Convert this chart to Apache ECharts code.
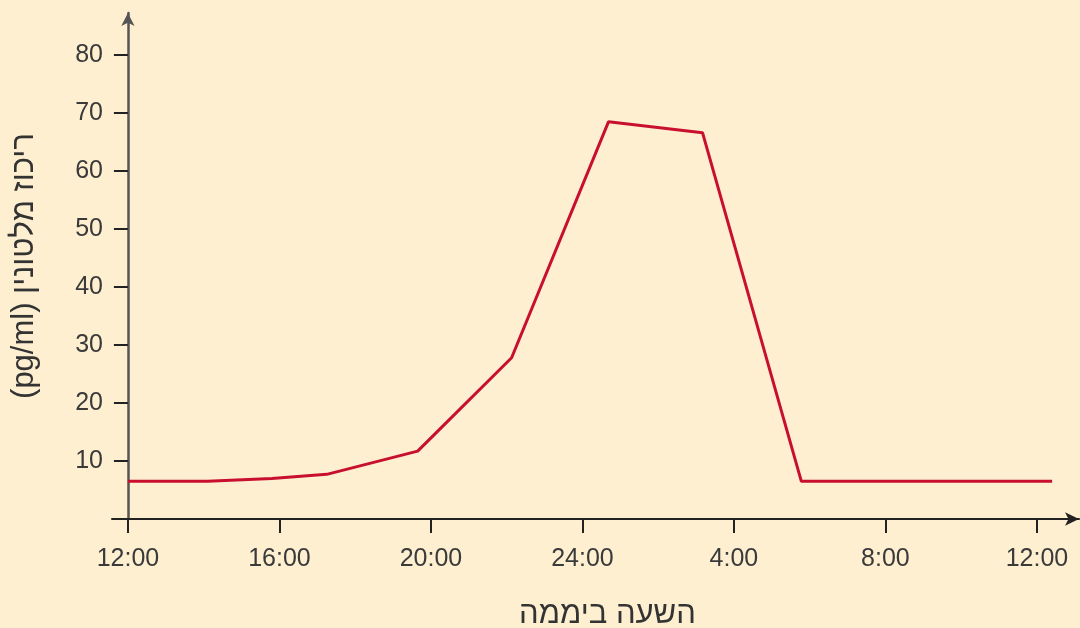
<!DOCTYPE html>
<html>
<head>
<meta charset="utf-8">
<script src="https://cdn.jsdelivr.net/npm/echarts@6/dist/echarts.min.js"></script>
<style>
html,body{margin:0;padding:0;background:#FDEFD0;}
#c{width:1080px;height:628px;}
</style>
</head>
<body>
<div id="c"></div>
<script>
// Hours elapsed since 12:00 (noon) and melatonin concentration (pg/ml)
const hours = [0, 2.1, 3.8, 5.25, 7.65, 10.13, 12.69, 15.17, 17.78, 24.4];
const melatonin = [6.5, 6.5, 7.0, 7.7, 11.7, 27.8, 68.5, 66.6, 6.5, 6.5];
const xTickHours = [0, 4, 8, 12, 16, 20, 24];
const xTickLabels = ['12:00', '16:00', '20:00', '24:00', '4:00', '8:00', '12:00'];
const yTicks = [10, 20, 30, 40, 50, 60, 70, 80];
const xName = 'השעה ביממה';
const yName = '(pg/ml) ריכוז מלטונין';

const FONT = "'Liberation Sans', 'DejaVu Sans', Arial, sans-serif";
const chart = echarts.init(document.getElementById('c'), null, {renderer: 'canvas'});
chart.setOption({
  backgroundColor: '#FDEFD0',
  animation: false,
  grid: {left: 112, right: 1, top: 13, bottom: 109, containLabel: false, outerBoundsMode: 'none'},
  xAxis: {
    type: 'value',
    min: -0.42,
    max: 25.11,
    name: xName,
    nameLocation: 'middle',
    nameGap: 80,
    nameTextStyle: {fontFamily: FONT, fontSize: 31, color: '#333', padding: [0, 0, 0, 24]},
    axisLine: {show: true, onZero: true, symbol: ['none', 'arrow'], symbolSize: [10, 14],
      lineStyle: {color: '#222', width: 2}},
    axisTick: {show: true, customValues: xTickHours, length: 14, inside: false,
      lineStyle: {color: '#222', width: 2}},
    axisLabel: {show: true, customValues: xTickHours, margin: 28,
      fontFamily: FONT, fontSize: 25, color: '#3a3a3a',
      formatter: function (v) { const i = xTickHours.indexOf(Math.round(v)); return i >= 0 ? xTickLabels[i] : ''; }},
    splitLine: {show: false}
  },
  yAxis: {
    type: 'value',
    min: 0,
    max: 87.24,
    name: yName,
    nameLocation: 'middle',
    nameRotate: 90,
    nameGap: 72,
    nameTextStyle: {fontFamily: FONT, fontSize: 31, color: '#333'},
    axisLine: {show: true, onZero: true, symbol: ['none', 'arrow'], symbolSize: [10, 13],
      lineStyle: {color: '#555', width: 2.5}},
    axisTick: {show: true, customValues: yTicks, length: 14, inside: false,
      lineStyle: {color: '#222', width: 2}},
    axisLabel: {show: true, customValues: yTicks, margin: 9,
      fontFamily: FONT, fontSize: 25, color: '#3a3a3a'},
    splitLine: {show: false}
  },
  series: [{
    type: 'line',
    data: hours.map((h, i) => [h, melatonin[i]]),
    symbol: 'none',
    lineStyle: {color: '#C8102E', width: 3},
    clip: false
  }]
});
</script>
</body>
</html>
